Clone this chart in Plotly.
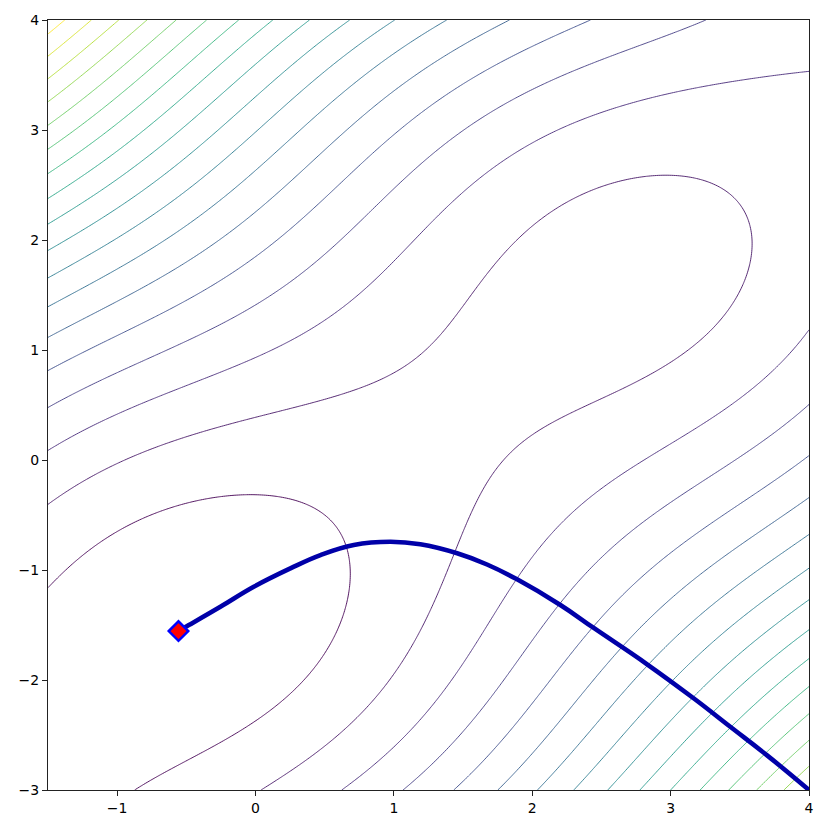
import numpy as np
import plotly.graph_objects as go

# McCormick surface sampled on the chart's domain
x_range = [-1.5, 4.0]
y_range = [-3.0, 4.0]
gx = np.linspace(x_range[0], x_range[1], 400)
gy = np.linspace(y_range[0], y_range[1], 400)
GX, GY = np.meshgrid(gx, gy)
Z = np.sin(GX + GY) + (GX - GY) ** 2 - 1.5 * GX + 2.5 * GY + 1

# contour levels (matplotlib-style nice levels)
level_start = 0.0
level_end = 42.5
level_step = 2.5

# descent path
path_x = [4.000, 3.697, 3.431, 3.166, 2.830, 2.444, 2.203, 1.890, 1.673, 1.457, 1.191, 0.975, 0.710, 0.469, 0.252, -0.013, -0.254, -0.494, -0.557]
path_y = [-3.000, -2.685, -2.425, -2.166, -1.857, -1.527, -1.318, -1.085, -0.950, -0.848, -0.766, -0.743, -0.772, -0.864, -0.985, -1.152, -1.334, -1.509, -1.555]

x_tickvals = [-1, 0, 1, 2, 3, 4]
x_ticktext = ["−1", "0", "1", "2", "3", "4"]
y_tickvals = [-3, -2, -1, 0, 1, 2, 3, 4]
y_ticktext = ["−3", "−2", "−1", "0", "1", "2", "3", "4"]

fig = go.Figure()
fig.add_trace(go.Contour(
    x=gx, y=gy, z=Z,
    colorscale="Viridis",
    zmin=-2.5, zmax=45, zauto=False,
    contours=dict(start=level_start, end=level_end, size=level_step, coloring="lines"),
    line=dict(width=0.9, smoothing=1),
    showscale=False,
    hoverinfo="skip",
))
fig.add_trace(go.Scatter(
    x=path_x, y=path_y, mode="lines",
    line=dict(color="#0000a8", width=4.6, shape="spline", smoothing=1.2),
    showlegend=False,
))
fig.add_trace(go.Scatter(
    x=[path_x[-1]], y=[path_y[-1]], mode="markers",
    marker=dict(symbol="diamond", size=15, color="red", line=dict(color="blue", width=2.5)),
    showlegend=False,
))

axis_common = dict(
    showgrid=False, zeroline=False, showline=True, linecolor="#222", linewidth=1.2,
    mirror=True, ticks="outside", ticklen=5, tickcolor="#222", automargin=False,
    tickfont=dict(family="DejaVu Sans", size=14, color="black"),
)
fig.update_layout(
    width=822, height=822,
    margin=dict(l=39.5, r=21, t=12, b=40, autoexpand=False),
    paper_bgcolor="white", plot_bgcolor="white",
    xaxis=dict(range=x_range, tickvals=x_tickvals, ticktext=x_ticktext, **axis_common),
    yaxis=dict(range=y_range, tickvals=y_tickvals, ticktext=y_ticktext, **axis_common),
    showlegend=False,
)
fig.write_html("out.html")
